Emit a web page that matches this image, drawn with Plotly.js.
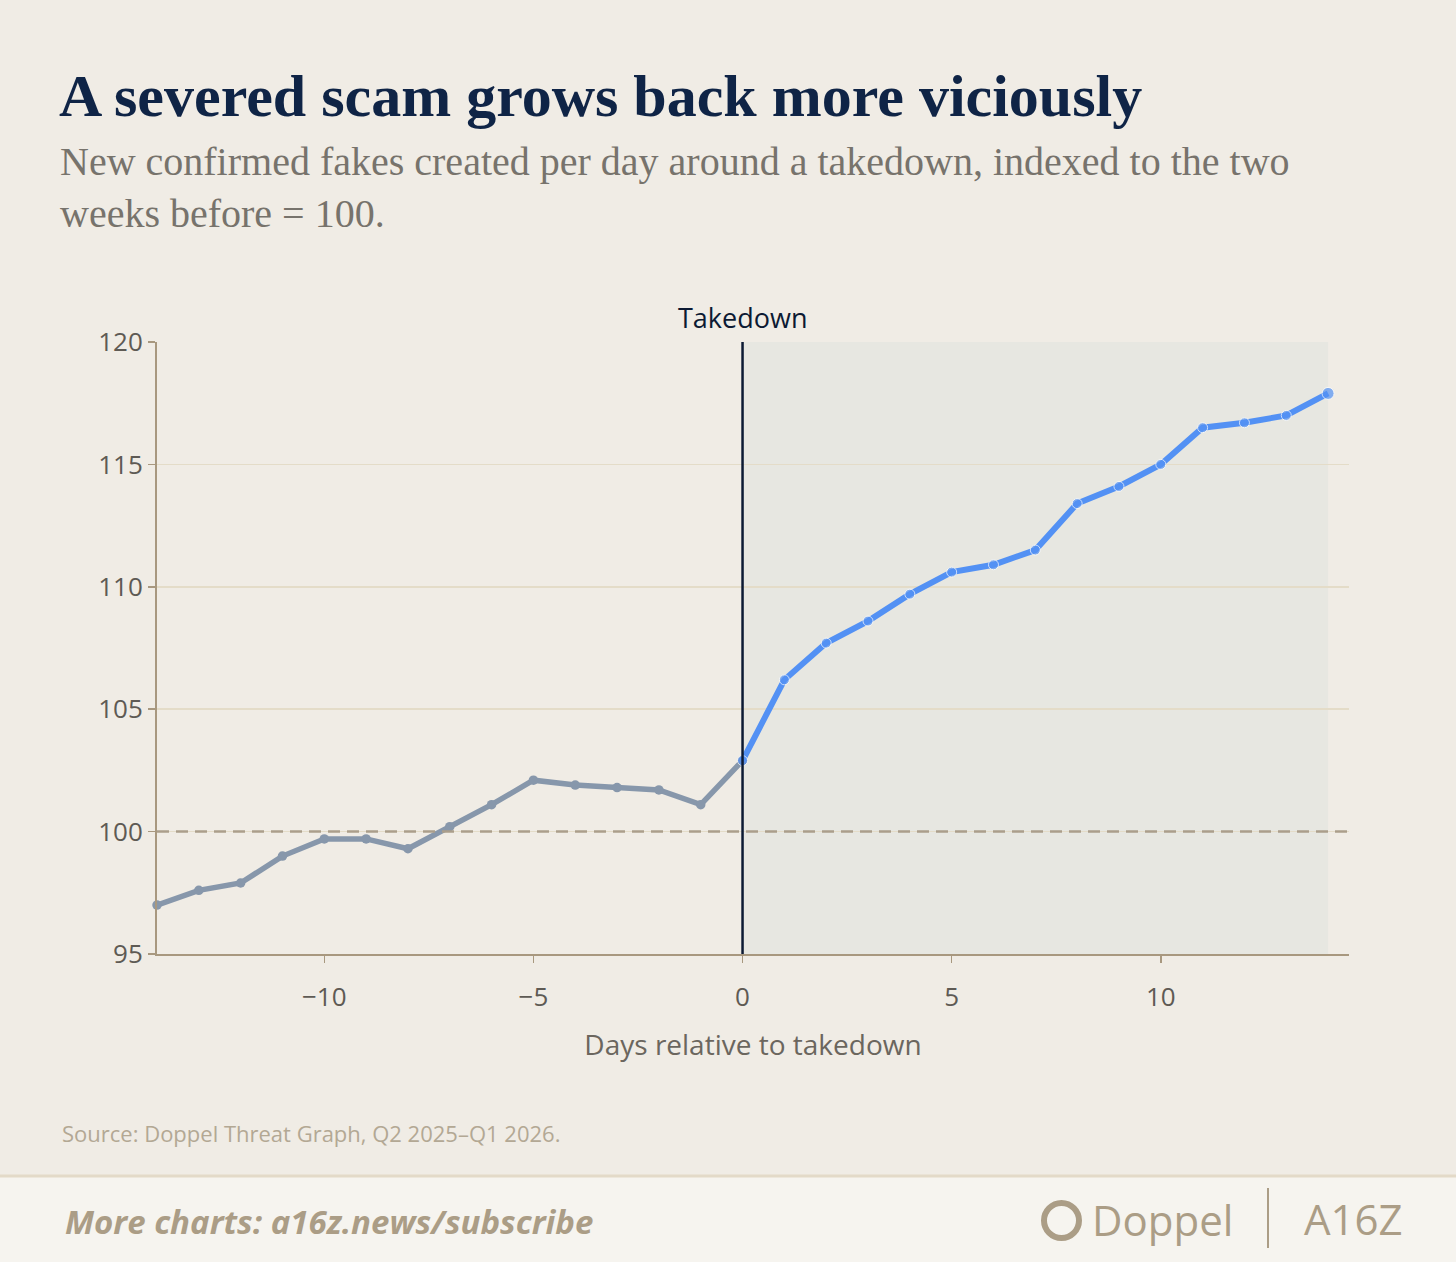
<!DOCTYPE html>
<html>
<head>
<meta charset="utf-8">
<script src="https://cdn.plot.ly/plotly-3.0.1.min.js"></script>
<style>
  html, body { margin: 0; padding: 0; background: #f0ece5; }
  #chart { width: 1456px; height: 1262px; }
</style>
</head>
<body>
<div id="chart"></div>
<script>
// days relative to the takedown, and the index (two weeks before = 100)
const days = [-14, -13, -12, -11, -10, -9, -8, -7, -6, -5, -4, -3, -2, -1,
  0, 1, 2, 3, 4, 5, 6, 7, 8, 9, 10, 11, 12, 13, 14];
const index = [97.0, 97.6, 97.9, 99.0, 99.7, 99.7, 99.3, 100.2, 101.1, 102.1, 101.9, 101.8, 101.7, 101.1,
  102.9, 106.2, 107.7, 108.6, 109.7, 110.6, 110.9, 111.5, 113.4, 114.1, 115.0, 116.5, 116.7, 117.0, 117.9];
const takedownDay = 0;
const baseline = 100;
const xTicks = [-10, -5, 0, 5, 10];
const yTicks = [95, 100, 105, 110, 115, 120];

const BG = "#f0ece5";
const SANS = "Open Sans, Lato, sans-serif";
const SERIF = "Liberation Serif, DejaVu Serif, serif";

// plot area in pixels, used to place the page furniture in paper coords
const L = 157, R = 1349, T = 342, B = 954;
const px = (x) => (x - L) / (R - L);
const py = (y) => (B - y) / (B - T);

const beforeX = [], beforeY = [], afterX = [], afterY = [];
days.forEach((d, i) => {
  if (d <= takedownDay) { beforeX.push(d); beforeY.push(index[i]); }
  if (d >= takedownDay) { afterX.push(d); afterY.push(index[i]); }
});

var before = {
  x: beforeX, y: beforeY,
  type: "scatter", mode: "lines+markers",
  line: { color: "#8797ab", width: 5.5 },
  marker: { color: "#8797ab", size: 9.5 },
  cliponaxis: false,
  hoverinfo: "x+y",
};

var after = {
  x: afterX, y: afterY,
  type: "scatter", mode: "lines+markers",
  line: { color: "#5391f4", width: 6 },
  marker: { color: "#5391f4", size: afterX.map((d, i) => (i == afterX.length - 1 ? 12 : 10)) },
  cliponaxis: false,
  hoverinfo: "x+y",
};

var shapes = [
  // after-takedown shading
  { type: "rect", xref: "x", yref: "paper", x0: takedownDay, x1: days[days.length - 1], y0: 0, y1: 1,
    fillcolor: "#e7e7e1", line: { width: 0 }, layer: "below" },
  // baseline
  { type: "line", xref: "paper", yref: "y", x0: 0, x1: 1, y0: baseline, y1: baseline,
    line: { color: "#ab9e8b", width: 2.5, dash: "12px,7px" } },
  // takedown marker
  { type: "line", xref: "x", yref: "paper", x0: takedownDay, x1: takedownDay, y0: 0, y1: 1,
    line: { color: "#0c1a33", width: 2.5 } },
  // footer band
  { type: "rect", xref: "paper", yref: "paper", x0: px(0), x1: px(1456), y0: py(1176), y1: py(1262),
    fillcolor: "#f6f4ef", line: { width: 0 }, layer: "below" },
  { type: "line", xref: "paper", yref: "paper", x0: px(0), x1: px(1456), y0: py(1176), y1: py(1176),
    line: { color: "#e3dac8", width: 3 } },
  // separator between logos
  { type: "line", xref: "paper", yref: "paper", x0: px(1268), x1: px(1268), y0: py(1188), y1: py(1248),
    line: { color: "#ab9d86", width: 2 } },
  // doppel mark
  { type: "circle", xref: "paper", yref: "paper", x0: px(1044), x1: px(1079), y0: py(1203), y1: py(1238),
    fillcolor: "rgba(0,0,0,0)", line: { color: "#ab9d86", width: 6 } },
];

var annotations = [
  { text: "<b>A severed scam grows back more viciously</b>", x: px(57), y: py(96),
    xref: "paper", yref: "paper", xanchor: "left", yanchor: "middle", showarrow: false, align: "left",
    font: { family: SERIF, size: 60, color: "#0f2446" } },
  { text: "New confirmed fakes created per day around a takedown, indexed to the two<br>weeks before = 100.",
    x: px(58), y: py(187), xref: "paper", yref: "paper", xanchor: "left", yanchor: "middle",
    showarrow: false, align: "left",
    font: { family: SERIF, size: 40, color: "#77736c" } },
  { text: "Takedown", x: takedownDay, y: py(318), xref: "x", yref: "paper",
    xanchor: "center", yanchor: "middle", showarrow: false,
    font: { family: SANS, size: 27, color: "#0c1a33" } },
  { text: "Source: Doppel Threat Graph, Q2 2025–Q1 2026.", x: px(60), y: py(1133),
    xref: "paper", yref: "paper", xanchor: "left", yanchor: "middle", showarrow: false,
    font: { family: SANS, size: 22, color: "#b3a894" } },
  { text: "<b><i>More charts: a16z.news/subscribe</i></b>", x: px(63), y: py(1221),
    xref: "paper", yref: "paper", xanchor: "left", yanchor: "middle", showarrow: false,
    font: { family: SANS, size: 33, color: "#ab9d86" } },
  { text: "Doppel", x: px(1090), y: py(1219), xref: "paper", yref: "paper",
    xanchor: "left", yanchor: "middle", showarrow: false,
    font: { family: SANS, size: 42, color: "#ab9d86" } },
  { text: "A16Z", x: px(1302), y: py(1218), xref: "paper", yref: "paper",
    xanchor: "left", yanchor: "middle", showarrow: false,
    font: { family: SANS, size: 42, color: "#ab9d86" } },
];

var layout = {
  width: 1456, height: 1262,
  margin: { l: L, r: 1456 - R, t: T, b: 1262 - B },
  paper_bgcolor: BG, plot_bgcolor: BG,
  showlegend: false,
  font: { family: SANS, color: "#5e5a54" },
  xaxis: {
    range: [-14, 14.5],
    tickvals: xTicks,
    showgrid: false, zeroline: false,
    showline: true, linecolor: "#a8987f", linewidth: 2,
    ticks: "outside", ticklen: 7, tickwidth: 1.5, tickcolor: "#a8987f",
    ticklabelstandoff: 12,
    tickfont: { family: SANS, size: 26, color: "#5e5a54" },
    title: { text: "Days relative to takedown", standoff: 22,
      font: { family: SANS, size: 28, color: "#6b665e" } },
  },
  yaxis: {
    range: [95, 120],
    tickvals: yTicks,
    showgrid: true, gridcolor: "#e4dcc8", gridwidth: 1.5,
    zeroline: false,
    showline: true, linecolor: "#a8987f", linewidth: 2,
    ticks: "outside", ticklen: 7, tickwidth: 1.5, tickcolor: "#a8987f",
    tickfont: { family: SANS, size: 26, color: "#5e5a54" },
  },
  shapes: shapes,
  annotations: annotations,
};

window.onload = () => {
  Plotly.newPlot("chart", [before, after], layout, { displayModeBar: false, staticPlot: true });
};
</script>
</body>
</html>
